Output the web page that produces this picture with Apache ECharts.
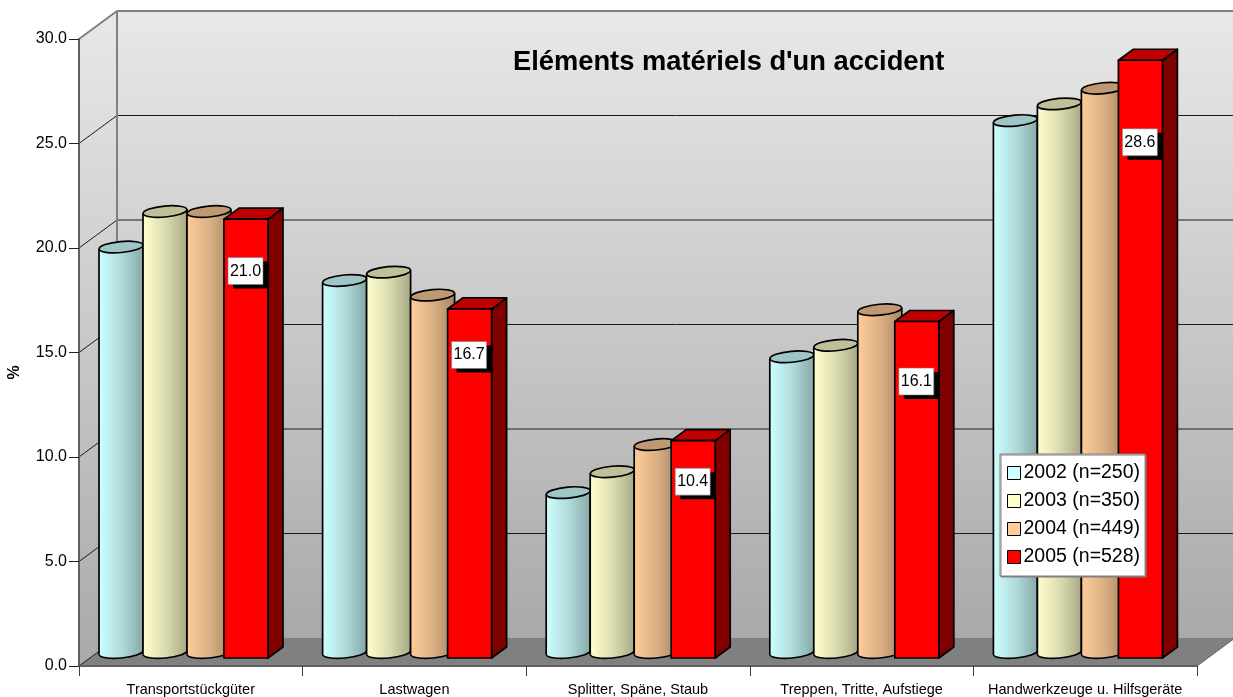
<!DOCTYPE html>
<html><head><meta charset="utf-8">
<script src="https://cdn.jsdelivr.net/npm/echarts@6/dist/echarts.min.js"></script>
<style>html,body{margin:0;padding:0;background:#fff}#c{width:1233px;height:697px}</style>
</head><body><div id="c"></div>
<script>
const categories = ['Transportstückgüter','Lastwagen','Splitter, Späne, Staub','Treppen, Tritte, Aufstiege','Handwerkzeuge u. Hilfsgeräte'];
const years = ['2002 (n=250)','2003 (n=350)','2004 (n=449)','2005 (n=528)'];
const v2002 = [19.4,17.8,7.65,14.15,25.45];
const v2003 = [21.1,18.2,8.65,14.7,26.25];
const v2004 = [21.1,17.1,9.95,16.4,27.0];
const v2005 = [21.0,16.7,10.4,16.1,28.6];
const yTicks = [0,5,10,15,20,25,30];

const DX = 38, DY = 28;               // wall depth
const BAR_W = 44, RY = 5.5, TILT = 0.09;
const BAR_OFFSET = [-91.8,-47.8,-3.8,33.2];
const LABEL_DROP = [52,46,41,60,82];
const shades = [
  {base:'#CCFFFF',stops:['#CCFFFF','#C4F5F5','#ADD8D8','#86A8A8'],top:'#9FC6C6'},
  {base:'#FFFFCC',stops:['#FFFFCC','#F5F5C4','#D8D8AD','#A8A886'],top:'#BFBF99'},
  {base:'#FFCC99',stops:['#FFCC99','#F5C493','#D8AD82','#A88665'],top:'#BF9973'},
  {base:'#FF0000',stops:null,top:'#C00000'}
];
const lg = (s)=>new echarts.graphic.LinearGradient(0,0,1,0,[{offset:0,color:s[0]},{offset:.15,color:s[1]},{offset:.55,color:s[2]},{offset:1,color:s[3]}]);

function renderWalls(params, api){
  const band = api.size([1,0])[0];
  const z = api.coord([0,0]);
  const L = z[0]-band/2, B = z[1];
  const T = api.coord([0,30])[1];
  const R = L + band*categories.length;
  const wallFill = new echarts.graphic.LinearGradient(0,0,0,1,[{offset:0,color:'#E8E8E8'},{offset:1,color:'#A9A9A9'}]);
  const ch = [
    {type:'polygon',shape:{points:[[L+DX,T-DY],[R+DX,T-DY],[R+DX,B-DY],[L+DX,B-DY]]},style:{fill:wallFill}},
    {type:'polygon',shape:{points:[[L,T],[L+DX,T-DY],[L+DX,B-DY],[L,B]]},style:{fill:wallFill}},
    {type:'polygon',shape:{points:[[L,B],[L+DX,B-DY],[R+DX,B-DY],[R,B]]},style:{fill:'#808080'}}
  ];
  yTicks.forEach(t=>{
    const y = api.coord([0,t])[1];
    const top = t===30;
    const col = top?'#808080':'#1a1a1a', w = top?2:1;
    ch.push({type:'line',shape:{x1:L,y1:y,x2:L+DX,y2:y-DY},style:{stroke:col,lineWidth:w}});
    if(t>0) ch.push({type:'line',shape:{x1:L+DX,y1:y-DY,x2:R+DX,y2:y-DY},style:{stroke:col,lineWidth:w}});
  });
  ch.push({type:'line',shape:{x1:L+DX,y1:T-DY,x2:L+DX,y2:B-DY},style:{stroke:'#808080',lineWidth:2}});
  ch.push({type:'line',shape:{x1:R,y1:B,x2:R+DX,y2:B-DY},style:{stroke:'#606060',lineWidth:1}});
  return {type:'group',children:ch};
}

function renderBar(si){
  return function(params, api){
    const i = api.value(0), v = api.value(1);
    const p = api.coord([i,v]);
    const z = api.coord([i,0]);
    const x = p[0] + BAR_OFFSET[si] ;
    const s = shades[si];
    const ch = [];
    if(si<3){
      const cx = x+BAR_W/2, rx = BAR_W/2;
      const yb = z[1]-13.5, yt = p[1]-13.5;
      const fill = lg(s.stops);
      const e = rx*Math.sin(TILT);
      ch.push({type:'ellipse',rotation:TILT,originX:cx,originY:yb,shape:{cx,cy:yb,rx,ry:RY},style:{fill,stroke:'#000',lineWidth:1.7}});
      ch.push({type:'polygon',shape:{points:[[x,yt+e],[x+BAR_W,yt-e],[x+BAR_W,yb-e],[x,yb+e]]},style:{fill}});
      ch.push({type:'line',shape:{x1:x,y1:yt+e,x2:x,y2:yb+e},style:{stroke:'#000',lineWidth:1.7}});
      ch.push({type:'line',shape:{x1:x+BAR_W,y1:yt-e,x2:x+BAR_W,y2:yb-e},style:{stroke:'#000',lineWidth:1.7}});
      ch.push({type:'ellipse',rotation:TILT,originX:cx,originY:yt,shape:{cx,cy:yt,rx,ry:RY},style:{fill:s.top,stroke:'#000',lineWidth:1.7}});
    } else {
      const yb = z[1]-8, yt = p[1]-8, dx=15, dy=11, xr=x+BAR_W;
      const st = {stroke:'#000',lineWidth:1.7,lineJoin:'round'};
      ch.push({type:'polygon',shape:{points:[[xr,yt],[xr+dx,yt-dy],[xr+dx,yb-dy],[xr,yb]]},style:{fill:'#800000',...st}});
      ch.push({type:'polygon',shape:{points:[[x,yt],[x+dx,yt-dy],[xr+dx,yt-dy],[xr,yt]]},style:{fill:'#C00000',...st}});
      ch.push({type:'rect',shape:{x,y:yt,width:BAR_W,height:yb-yt},style:{fill:'#FF0000',...st}});
      const cy = yt + LABEL_DROP[i], bw=35, bh=27, bx=x+4, by=cy-13.5;
      ch.push({type:'rect',shape:{x:bx+5,y:by+4,width:bw,height:bh},style:{fill:'#000'}});
      ch.push({type:'rect',shape:{x:bx,y:by,width:bw,height:bh},style:{fill:'#fff',stroke:'#777',lineWidth:.6}});
      ch.push({type:'text',style:{text:v.toFixed(1),x:bx+bw/2,y:cy,align:'center',verticalAlign:'middle',fill:'#000',font:'16px "Liberation Sans"'}});
    }
    return {type:'group',children:ch};
  };
}
const toData = (a)=>a.map((v,i)=>[i,v]);
const chart = echarts.init(document.getElementById('c'),null,{renderer:'canvas'});
chart.setOption({
  animation:false,
  backgroundColor:'#fff',
  textStyle:{fontFamily:'"Liberation Sans"'},
  title:{text:"Eléments matériels d'un accident",left:513,top:49,padding:0,textStyle:{fontFamily:'"Liberation Sans"',fontSize:27.3,fontWeight:'bold',color:'#000'}},
  grid:{left:79,right:36,top:39,bottom:31,outerBoundsMode:'none'},
  legend:{data:years,icon:'rect',orient:'vertical',left:1000,top:454,padding:[9,5,9,7],itemWidth:13,itemHeight:13,itemGap:8,
    backgroundColor:'#fff',borderColor:'#808080',borderWidth:1,shadowColor:'#808080',shadowBlur:0,shadowOffsetX:1,shadowOffsetY:1,
    itemStyle:{borderColor:'#000',borderWidth:1},
    textStyle:{fontFamily:'"Liberation Sans"',fontSize:19.5,color:'#000',lineHeight:20,padding:[0,0,0,-2]}},
  xAxis:{type:'category',data:categories,boundaryGap:true,z:3,
    axisLine:{lineStyle:{color:'#606060',width:2}},axisTick:{show:true,length:10,alignWithLabel:false,lineStyle:{color:'#404040',width:1}},
    axisLabel:{fontSize:14.5,color:'#000',margin:16,interval:0,fontFamily:'"Liberation Sans"'},splitLine:{show:false}},
  yAxis:{type:'value',min:0,max:30,interval:5,z:3,
    name:'%',nameLocation:'middle',nameRotate:90,nameGap:56,nameTextStyle:{fontFamily:'"Liberation Sans"',fontSize:16,fontWeight:'bold',color:'#000',padding:[0,40,0,0]},
    axisLine:{show:true,lineStyle:{color:'#606060',width:2}},axisTick:{show:true,length:10,lineStyle:{color:'#202020',width:1}},
    axisLabel:{fontSize:16,color:'#000',margin:12,formatter:v=>v.toFixed(1),fontFamily:'"Liberation Sans"'},splitLine:{show:false}},
  series:[
    {type:'custom',name:'walls',z:1,silent:true,clip:false,renderItem:renderWalls,data:[[0,0]],encode:{x:0,y:1}},
    ...[v2002,v2003,v2004,v2005].map((arr,si)=>({type:'custom',name:years[si],z:2,clip:false,itemStyle:{color:shades[si].base},renderItem:renderBar(si),data:toData(arr),encode:{x:0,y:1}}))
  ]
});
</script></body></html>
